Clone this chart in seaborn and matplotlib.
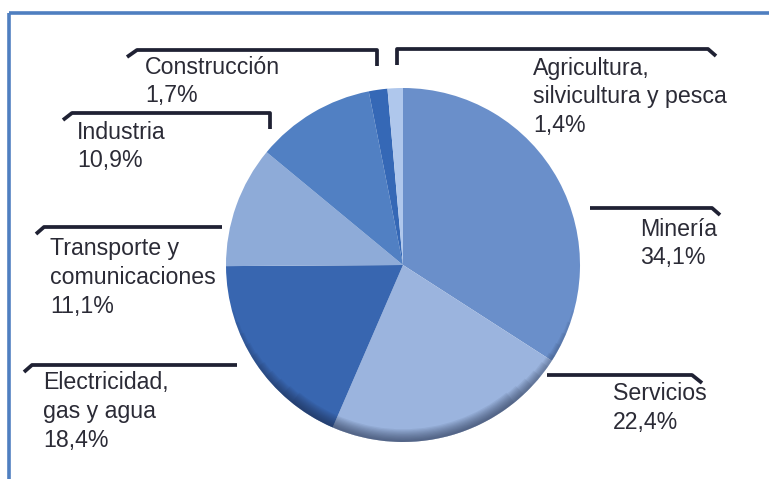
import matplotlib
matplotlib.use("Agg")
import matplotlib.pyplot as plt
import matplotlib.patches as mpatches
import seaborn as sns

# ---- data ----
sectors = ["Minería", "Servicios", "Electricidad,\ngas y agua", "Transporte y\ncomunicaciones",
           "Industria", "Construcción", "Agricultura,\nsilvicultura y pesca"]
shares = [34.1, 22.4, 18.4, 11.1, 10.9, 1.7, 1.4]
share_labels = ["34,1%", "22,4%", "18,4%", "11,1%", "10,9%", "1,7%", "1,4%"]
colors = ["#6a8fca", "#9bb4de", "#3866b0", "#8eabd8", "#5180c3", "#3568b6", "#afc7ec"]

sns.set_theme(style="white")
plt.rcParams["font.family"] = ["Liberation Sans", "DejaVu Sans"]

W, H = 769, 479
fig = plt.figure(figsize=(W / 100, H / 100), dpi=100)
ax = fig.add_axes([0, 0, 1, 1])

def Y(y):
    return H - y

cx, cy, R = 403, Y(265), 177
ax.pie(shares, colors=colors, startangle=90, counterclock=False,
       center=(cx, cy), radius=R, wedgeprops=dict(linewidth=0))

# subtle rim shading at the lower edge
for k in range(10):
    ax.add_patch(mpatches.Wedge((cx, cy), R, 195 + k * 4, 345 - k * 4,
                                width=2 + k * 1.2, facecolor="#1a2540",
                                edgecolor="none", alpha=0.07))

# ---- label layout (image pixel coords) ----
text_color = "#2b2b36"
line_color = "#1f2133"
fs = 16.7
lh = 28.5

layout = {
    "Minería": (640, 229),
    "Servicios": (613, 394),
    "Electricidad,\ngas y agua": (43, 383),
    "Transporte y\ncomunicaciones": (50, 249),
    "Industria": (77, 132),
    "Construcción": (145, 67),
    "Agricultura,\nsilvicultura y pesca": (533, 68),
}
for name, lab in zip(sectors, share_labels):
    tx, ty = layout[name]
    lines = name.split("\n") + [lab]
    for i, ln in enumerate(lines):
        ax.text(tx, Y(ty + i * lh), ln, fontsize=fs, color=text_color,
                ha="left", va="center")

lw = 2.7
def poly(pts):
    xs = [p[0] for p in pts]
    ys = [Y(p[1]) for p in pts]
    ax.plot(xs, ys, color=line_color, lw=lw, solid_capstyle="butt",
            solid_joinstyle="round")

poly([(127, 57), (137, 50), (377, 50), (377, 66)])          # Construcción
poly([(63, 120), (72, 113), (270, 113), (270, 129)])        # Industria
poly([(36, 234), (44, 227), (222, 227)])                    # Transporte
poly([(24, 372), (32, 365), (237, 365)])                    # Electricidad
poly([(397, 65), (397, 49), (708, 49), (716, 56)])          # Agricultura
poly([(590, 208), (712, 208), (720, 215)])                  # Minería
poly([(547, 375), (692, 375), (702, 383)])                  # Servicios

# frame lines (top & left)
border = "#4f7fc0"
ax.plot([9, W], [Y(13), Y(13)], color=border, lw=2.6, solid_capstyle="butt")
ax.plot([9, 9], [Y(13), 0], color=border, lw=2.6, solid_capstyle="butt")

ax.set_xlim(0, W)
ax.set_ylim(0, H)
ax.set_aspect("auto")
ax.axis("off")
fig.savefig("out.png", dpi=100)
